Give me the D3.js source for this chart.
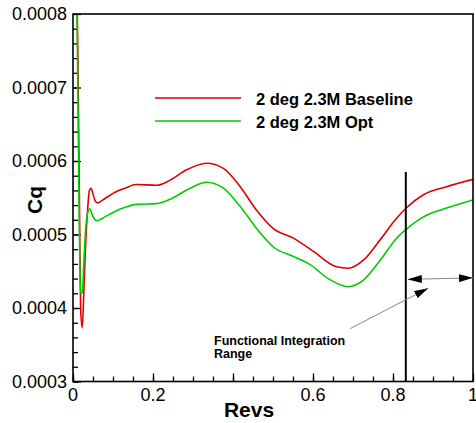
<!DOCTYPE html>
<html>
<head>
<meta charset="utf-8">
<script src="https://d3js.org/d3.v7.min.js"></script>
<style>
  body { margin: 0; background: #fff; }
  svg { display: block; font-family: "Liberation Sans", Arial, sans-serif; }
</style>
</head>
<body>
<div id="graph"></div>
<script>
//Cq vs Revs - baseline and optimised

var baselineRevs = [0.008, 0.012, 0.016, 0.019, 0.023, 0.027, 0.031, 0.036, 0.041, 0.045, 0.05, 0.056, 0.061, 0.08, 0.1, 0.13, 0.159, 0.209, 0.243, 0.284, 0.334, 0.376, 0.418, 0.459, 0.501, 0.551, 0.601, 0.659, 0.688, 0.726, 0.768, 0.809, 0.833, 0.876, 0.934, 1.0];
var baselineCq = [0.0009, 0.00075, 0.00055, 0.0004, 0.000373, 0.00042, 0.00048, 0.00053, 0.00056, 0.000563, 0.000555, 0.000545, 0.000543, 0.000549, 0.000556, 0.000563, 0.000568, 0.000567, 0.000574, 0.000588, 0.000597, 0.00059, 0.000565, 0.000533, 0.000508, 0.000495, 0.000477, 0.000456, 0.000454, 0.000465, 0.000493, 0.000522, 0.000536, 0.000554, 0.000565, 0.000575];

var optRevs = [0.008, 0.011, 0.014, 0.017, 0.019, 0.023, 0.027, 0.032, 0.038, 0.042, 0.048, 0.055, 0.06, 0.08, 0.1, 0.13, 0.159, 0.209, 0.243, 0.293, 0.334, 0.376, 0.418, 0.468, 0.501, 0.551, 0.593, 0.638, 0.688, 0.726, 0.768, 0.809, 0.833, 0.876, 0.934, 1.0];
var optCq = [0.0009, 0.00075, 0.0006, 0.00046, 0.00042, 0.00042, 0.00046, 0.00051, 0.000532, 0.000535, 0.000527, 0.00052, 0.000519, 0.000524, 0.00053, 0.000537, 0.000541, 0.000542, 0.000548, 0.000563, 0.000571, 0.000563, 0.000538, 0.000502, 0.000483, 0.00047, 0.000459, 0.00044, 0.000429, 0.000438, 0.000465, 0.000495, 0.000507, 0.000524, 0.000536, 0.000547];

var seriesNames = ["2 deg 2.3M Baseline", "2 deg 2.3M Opt"];
var seriesColors = ["#e00000", "#00cc00"];

var xTicks = [0, 0.2, 0.4, 0.6, 0.8, 1];
var xTickLabels = [0, 0.2, 0.6, 0.8, 1];   //0.4 sits under the "Revs" title in the original
var yTicks = [0.0003, 0.0004, 0.0005, 0.0006, 0.0007, 0.0008];

var rangeStart = 0.832;   //vertical marker
var noteText = ["Functional Integration", "Range"];

const fullwidth = 476;
const fullheight = 423;
const plotLeft = 73, plotRight = 473, plotTop = 14, plotBottom = 381.5;

var xScale = d3.scaleLinear().domain([0, 1]).range([plotLeft, plotRight]);
var yScale = d3.scaleLinear().domain([0.0003, 0.0008]).range([plotBottom, plotTop]);

var svg = d3.select("#graph")
  .append("svg")
  .attr("width", fullwidth)
  .attr("height", fullheight);

var defs = svg.append("defs");
defs.append("clipPath").attr("id", "clip")
  .append("rect")
  .attr("x", plotLeft).attr("y", plotTop)
  .attr("width", plotRight - plotLeft).attr("height", plotBottom - plotTop);

defs.append("marker")
  .attr("id", "head")
  .attr("viewBox", "0 0 14 8")
  .attr("refX", 14).attr("refY", 4)
  .attr("markerWidth", 14).attr("markerHeight", 8)
  .attr("markerUnits", "userSpaceOnUse")
  .attr("orient", "auto-start-reverse")
  .append("path")
  .attr("d", "M0,0 L14,4 L0,8 Z")
  .attr("fill", "black");

//Axes - ticks point inward
var yAxis = d3.axisRight(yScale)
  .tickValues(yTicks)
  .tickSize(8)
  .tickFormat("");
var yMinor = d3.axisRight(yScale)
  .tickValues(d3.range(0.0003, 0.0008, 0.00002))
  .tickSize(5)
  .tickFormat("");
var xAxis = d3.axisTop(xScale)
  .tickValues(xTicks)
  .tickSize(8)
  .tickFormat("");
var xMinor = d3.axisTop(xScale)
  .tickValues(d3.range(0, 1, 0.05))
  .tickSize(5)
  .tickFormat("");

[yAxis, yMinor].forEach(function(ax) {
  svg.append("g")
    .attr("transform", "translate(" + plotLeft + ",0)")
    .call(ax)
    .call(function(g) { g.select(".domain").remove(); })
    .selectAll("line").attr("stroke", "black").attr("stroke-width", 1.3);
});
[xAxis, xMinor].forEach(function(ax) {
  svg.append("g")
    .attr("transform", "translate(0," + plotBottom + ")")
    .call(ax)
    .call(function(g) { g.select(".domain").remove(); })
    .selectAll("line").attr("stroke", "black").attr("stroke-width", 1.3);
});

//Tick labels
svg.append("g").selectAll("text")
  .data(yTicks)
  .enter().append("text")
  .attr("x", plotLeft - 6)
  .attr("y", function(d) { return yScale(d); })
  .attr("dy", "0.35em")
  .attr("text-anchor", "end")
  .attr("font-size", 18)
  .text(function(d) { return d3.format(".4f")(d); });

svg.append("g").selectAll("text")
  .data(xTickLabels)
  .enter().append("text")
  .attr("x", function(d) { return xScale(d); })
  .attr("y", plotBottom + 19)
  .attr("text-anchor", "middle")
  .attr("font-size", 18)
  .text(function(d) { return d; });

//Axis titles
svg.append("text")
  .attr("x", 249).attr("y", 417)
  .attr("text-anchor", "middle")
  .attr("font-size", 21).attr("font-weight", "bold")
  .text("Revs");

svg.append("text")
  .attr("transform", "translate(42,200) rotate(-90)")
  .attr("text-anchor", "middle")
  .attr("font-size", 21).attr("font-weight", "bold")
  .text("Cq");

//Data lines
var line = d3.line()
  .x(function(d) { return xScale(d[0]); })
  .y(function(d) { return yScale(d[1]); })
  .curve(d3.curveMonotoneX);

var series = [d3.zip(baselineRevs, baselineCq), d3.zip(optRevs, optCq)];

svg.append("g")
  .attr("clip-path", "url(#clip)")
  .selectAll("path")
  .data(series)
  .enter().append("path")
  .attr("d", line)
  .attr("fill", "none")
  .attr("stroke", function(d, i) { return seriesColors[i]; })
  .attr("stroke-width", 1.6);

//Frame
svg.append("rect")
  .attr("x", plotLeft).attr("y", plotTop)
  .attr("width", plotRight - plotLeft).attr("height", plotBottom - plotTop)
  .attr("fill", "none")
  .attr("stroke", "black")
  .attr("stroke-width", 1.6);

//Integration range marker
svg.append("line")
  .attr("x1", xScale(rangeStart)).attr("x2", xScale(rangeStart))
  .attr("y1", yScale(0.000585)).attr("y2", plotBottom)
  .attr("stroke", "black").attr("stroke-width", 2);

svg.append("line")
  .attr("x1", xScale(rangeStart) + 2).attr("x2", plotRight)
  .attr("y1", yScale(0.000439)).attr("y2", yScale(0.000441))
  .attr("stroke", "#888").attr("stroke-width", 1)
  .attr("marker-start", "url(#head)")
  .attr("marker-end", "url(#head)");

svg.append("line")
  .attr("x1", xScale(0.693)).attr("y1", yScale(0.000372))
  .attr("x2", xScale(0.888)).attr("y2", yScale(0.000427))
  .attr("stroke", "#888").attr("stroke-width", 1)
  .attr("marker-end", "url(#head)");

svg.append("g").selectAll("text")
  .data(noteText)
  .enter().append("text")
  .attr("x", xScale(0.3525))
  .attr("y", function(d, i) { return yScale(0.00035) + i * 13; })
  .attr("font-size", 12.5).attr("font-weight", "bold")
  .text(function(d) { return d; });

//Legend
var legend = svg.append("g").selectAll("g")
  .data(seriesNames)
  .enter().append("g")
  .attr("transform", function(d, i) { return "translate(0," + (98 + i * 23) + ")"; });

legend.append("line")
  .attr("x1", 155).attr("x2", 241)
  .attr("stroke", function(d, i) { return seriesColors[i]; })
  .attr("stroke-width", 1.6);

legend.append("text")
  .attr("x", 256).attr("y", 7)
  .attr("font-size", 16.5).attr("font-weight", "bold")
  .text(function(d) { return d; });
</script>
</body>
</html>
